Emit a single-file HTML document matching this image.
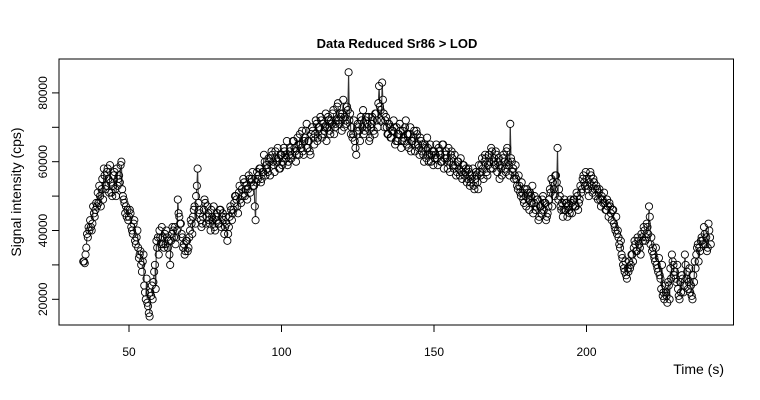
<!DOCTYPE html>
<html><head><meta charset="utf-8"><style>
html,body{margin:0;padding:0;background:#fff;}
svg{display:block;font-family:"Liberation Sans",Arial,sans-serif;}
</style></head><body>
<svg id="chart" width="760" height="400" viewBox="0 0 760 400" xmlns="http://www.w3.org/2000/svg">
<rect width="760" height="400" fill="#fff"/>
<text x="397" y="48" text-anchor="middle" font-size="13" font-weight="bold">Data Reduced Sr86 &gt; LOD</text>
<text transform="translate(21,192) rotate(-90)" text-anchor="middle" font-size="14">Signal intensity (cps)</text>
<text x="724" y="374" text-anchor="end" font-size="14">Time (s)</text>
<g id="axes"></g>
<g id="lines"></g>
<g id="points"></g>
<rect x="59" y="59" width="674.5" height="266" fill="none" stroke="#000" stroke-width="1"/>
</svg>
<script>
const startTime = 35;
const timeStep = 0.5;
// samples at startTime + i*0.5
const signalK = [
31,30.5,35,38,40,41,42,45,46,47,48,50,52,49,56,53,58,51,54,50,56,52,58,55,54,60,50,48,47,46,
44,45,40,42,37,38,35,33,30,31,24,20,19,16,22,24,25,30,37,38,40,36,38,35,36,38,37,30,39,40,
41,38,49,44,42,38,36,34,37,35,40,42,44,47,50,58,46,43,42,46,48,44,45,42,46,43,41,44,45,42,
46,44,43,41,42,39,44,46,45,48,50,47,51,49,52,55,50,53,52,55,54,57,53,43,57,56,58,55,57,60,
59,57,60,61,62,59,63,60,61,58,62,60,63,61,59,62,64,62,66,63,62,65,68,64,63,66,69,64,66,62,
70,67,68,71,67,70,72,68,69,74,70,72,68,71,75,70,72,77,71,73,74,70,72,76,86,74,70,68,66,62,
71,69,73,70,68,72,70,73,67,71,72,68,74,70,82,75,83,74,72,70,68,70,67,69,70,66,66,68,69,66,
67,70,65,68,68,63,66,69,65,68,64,67,63,62,65,61,64,62,60,63,63,62,61,64,62,60,65,61,63,58,
60,62,61,58,59,57,60,56,57,59,56,58,55,57,54,56,53,55,56,52,57,59,58,60,61,56,62,58,63,60,
59,62,60,55,58,61,60,57,64,59,71,60,58,56,55,52,53,50,51,48,50,52,49,51,48,45,50,47,49,44,
47,49,46,48,44,47,52,55,54,50,56,64,52,47,48,46,46,48,47,45,48,47,49,47,50,48,53,52,56,53,
55,52,54,56,51,54,50,52,51,49,50,48,48,46,47,48,45,46,42,40,39,38,35,33,30,28,27,29,31,30,
33,35,36,34,37,35,39,37,40,38,41,47,36,34,33,31,30,28,27,23,21,20,22,19,24,29,33,30,28,25,
23,20,22,26,24,30,28,25,22,21,27,31,33,36,35,37,37,41,36,34,42,38
];
// interleaved samples at startTime + 0.25 + i*0.5
const signalKB = [
31,33,39,41,43,40,47,44,48,51,53,47,55,58,52,57,55,59,51,53,57,50,53,56,59,52,49,45,44,43,
46,41,39,43,36,40,32,34,28,33,22,26,18,15,21,20,28,23,35,33,38,41,36,39,40,35,33,37,41,38,
36,40,45,42,39,35,33,37,34,38,43,39,46,42,53,48,45,41,44,49,42,47,43,40,44,47,40,43,42,46,
41,45,39,44,37,41,47,43,46,50,49,45,53,48,50,54,52,49,56,51,55,53,47,54,55,58,54,57,62,56,
58,61,56,63,60,57,61,64,58,62,59,64,62,66,60,63,61,66,64,60,67,62,65,69,62,67,71,66,63,68,
69,65,72,66,70,73,67,71,70,66,73,69,72,74,68,71,76,72,74,69,78,73,71,75,72,68,67,72,64,69,
70,66,72,75,69,73,71,66,70,73,69,74,72,77,76,72,78,70,73,68,71,67,69,72,65,70,68,71,64,69,
66,72,68,64,70,66,67,63,69,65,62,66,65,60,64,67,60,65,62,59,61,65,59,63,60,65,58,62,61,64,
57,63,59,62,56,60,58,61,55,59,57,54,58,53,55,58,52,57,54,59,56,61,55,62,57,59,60,64,58,61,
63,57,61,59,56,62,58,63,60,56,61,57,55,59,53,56,51,54,49,52,47,51,46,50,53,48,46,49,43,47,
45,50,48,43,45,49,51,47,52,56,54,49,50,46,44,49,48,44,46,49,45,49,47,51,46,49,51,55,54,57,
53,50,57,53,55,52,53,49,52,47,49,51,46,49,44,47,43,46,41,44,40,36,37,32,29,31,26,28,29,33,
31,37,34,38,36,33,38,41,37,42,39,44,38,35,32,35,29,32,26,30,22,24,21,25,20,26,31,27,26,30,
21,25,27,22,33,26,23,29,24,20,25,29,35,31,34,38,36,39,38,35,40,36
];
const xTicks = [50,100,150,200];
const xTickLabels = ["50","100","150","200"];
const yTicks = [20000,30000,40000,50000,60000,70000,80000];
const yTickLabels = ["20000","","40000","","60000","","80000"];

const NS = "http://www.w3.org/2000/svg";
function xScale(t){ return 129 + (t - 50) * 3.05; }
function yScale(v){ return 299.3 - (v - 20000) * 0.00344; }
function mk(tag, attrs, parent){ const e = document.createElementNS(NS, tag); for (const k in attrs) e.setAttribute(k, attrs[k]); parent.appendChild(e); return e; }

const axes = document.getElementById('axes');
xTicks.forEach((t, i) => {
  const x = xScale(t);
  const tk = mk('line', {x1:x, x2:x, y1:325, y2:332, stroke:'#000'}, axes);
  
  
  const lb = mk('text', {x:x, y:356, 'text-anchor':'middle', 'font-size':12}, axes);
  lb.textContent = xTickLabels[i];
  
  
});
yTicks.forEach((v, i) => {
  const y = yScale(v);
  const tk = mk('line', {x1:52, x2:59, y1:y, y2:y, stroke:'#000'}, axes);
  
  
  if (yTickLabels[i]) {
    const lb = mk('text', {transform:'translate(47,' + y + ') rotate(-90)', 'text-anchor':'middle', 'font-size':12}, axes);
    lb.textContent = yTickLabels[i];
    
    
  }
});

const r = 3.6;
const samples = [];
signalK.forEach((v, i) => samples.push([startTime + i * timeStep, v]));
signalKB.forEach((v, i) => samples.push([startTime + 0.25 + i * timeStep, v]));
samples.sort((a, b) => a[0] - b[0]);
const pts = samples.map(([t, v]) => [xScale(t), yScale(v * 1000)]);
const lg = document.getElementById('lines');
for (let i = 1; i < pts.length; i++) {
  const [x1, y1] = pts[i-1], [x2, y2] = pts[i];
  const d = Math.hypot(x2 - x1, y2 - y1);
  if (d > 2 * r + 0.5) {
    const ux = (x2 - x1) / d, uy = (y2 - y1) / d;
    const ln = mk('line', {x1:x1 + ux*r, y1:y1 + uy*r, x2:x2 - ux*r, y2:y2 - uy*r, stroke:'#333', 'stroke-width':1.1}, lg);
    
    
  }
}
const pg = document.getElementById('points');
pts.forEach(([x, y]) => {
  const c = mk('circle', {cx:x, cy:y, r:r, fill:'none', stroke:'#000', 'stroke-width':0.9}, pg);
  
  
});
</script>
</body></html>
